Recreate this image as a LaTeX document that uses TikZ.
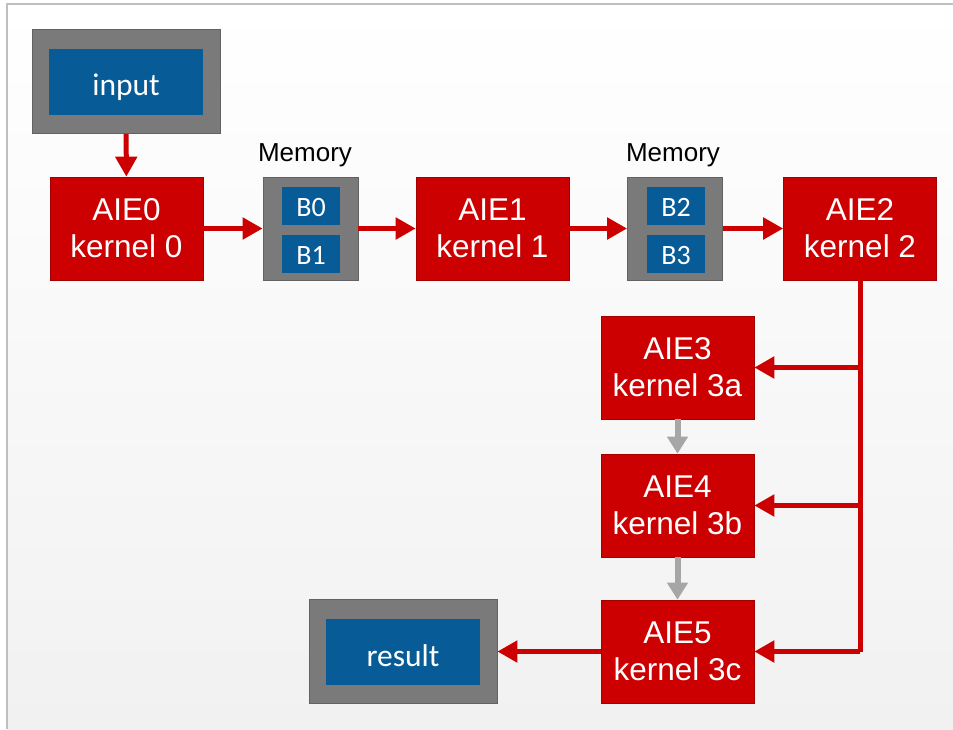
\documentclass[tikz,border=0pt]{standalone}
\usepackage{fontspec}
\setmainfont{Liberation Sans}
\newfontfamily\calfont{Carlito}
\usetikzlibrary{arrows.meta}

\definecolor{aiered}{HTML}{CC0000}
\definecolor{memgray}{HTML}{7A7A7A}
\definecolor{bufblue}{HTML}{075B97}
\definecolor{flowgray}{HTML}{A6A6A6}
\definecolor{framegray}{HTML}{BFBFBF}
\definecolor{bgbottom}{HTML}{F1F1F1}

\begin{document}
\begin{tikzpicture}[x=1pt, y=-1pt,
  aie/.style={rectangle, fill=aiered, draw=aiered!80!black, line width=0.6pt, text=white,
    minimum width=153pt, minimum height=103pt, align=center, font=\fontsize{31.5}{37}\selectfont},
  mem/.style={rectangle, fill=memgray, draw=memgray!80!black, line width=0.8pt,
    minimum width=95pt, minimum height=103pt},
  buf/.style={rectangle, fill=bufblue, text=white, inner sep=0pt, text height=20pt, text depth=0pt,
    minimum width=58pt, minimum height=38pt, font=\calfont\fontsize{28}{30}\selectfont},
  io/.style={rectangle, fill=memgray, draw=memgray!80!black, line width=0.8pt,
    minimum width=188pt, minimum height=104pt},
  iotext/.style={rectangle, fill=bufblue, text=white, inner sep=0pt, text height=27pt, text depth=0pt,
    minimum width=154pt, minimum height=66pt, font=\calfont\fontsize{31.5}{34}\selectfont},
  memlabel/.style={font=\fontsize{26}{30}\selectfont, inner sep=0pt},
  redflow/.style={draw=aiered, line width=5pt, -{Triangle[length=20pt,width=21pt]}},
  grayflow/.style={draw=flowgray, line width=6pt, -{Triangle[length=17pt,width=20pt]}}]

\useasboundingbox (0,0) rectangle (953,729);
\fill[white] (0,0) rectangle (953,729);
\shade[top color=white, bottom color=bgbottom] (7,4) rectangle (953,729);
\draw[framegray, line width=2pt] (7,729) -- (7,4) -- (953,4);

% Posizioni dei nodi
\node[io] (inbox) at (126,81.5) {};
\node[iotext] (input) at (inbox.center) {input};

\node[aie] (aie0) at (126.5,228.5) {AIE0\\kernel 0};
\node[mem] (mem0) at (310.5,228.5) {};
\node[memlabel] (memlab0) at (305,155) {Memory};
\node[buf] (b0) at (311,206) {B0};
\node[buf] (b1) at (311,254) {B1};
\node[aie] (aie1) at (492.5,228.5) {AIE1\\kernel 1};
\node[mem] (mem1) at (675,228.5) {};
\node[memlabel] (memlab1) at (673,155) {Memory};
\node[buf] (b2) at (676,206) {B2};
\node[buf] (b3) at (676,254) {B3};
\node[aie] (aie2) at (860,228.5) {AIE2\\kernel 2};

\node[aie] (aie3) at (677.5,367.5) {AIE3\\kernel 3a};
\node[aie] (aie4) at (677.5,505.5) {AIE4\\kernel 3b};
\node[aie] (aie5) at (677.5,651.5) {AIE5\\kernel 3c};

\node[io] (outbox) at (403,651.5) {};
\node[iotext, text height=30pt] (result) at (outbox.center) {result};

\coordinate (tap3) at (860,367.5);
\coordinate (tap4) at (860,505.5);
\coordinate (tap5) at (860,651.5);

% Archi
\draw[redflow] (inbox) -- (aie0);
\draw[redflow] (aie0) -- (mem0);
\draw[redflow] (mem0) -- (aie1);
\draw[redflow] (aie1) -- (mem1);
\draw[redflow] (mem1) -- (aie2);
\draw[draw=aiered, line width=5pt, line join=round] (aie2.south) -- (tap5);
\draw[redflow] (tap3) -- (aie3.east);
\draw[redflow] (tap4) -- (aie4.east);
\draw[redflow, line join=round] (tap5) -- (aie5.east);
\draw[redflow] (aie5) -- (outbox);
\draw[grayflow] (aie3) -- (aie4);
\draw[grayflow] (aie4) -- (aie5);
\end{tikzpicture}
\end{document}
